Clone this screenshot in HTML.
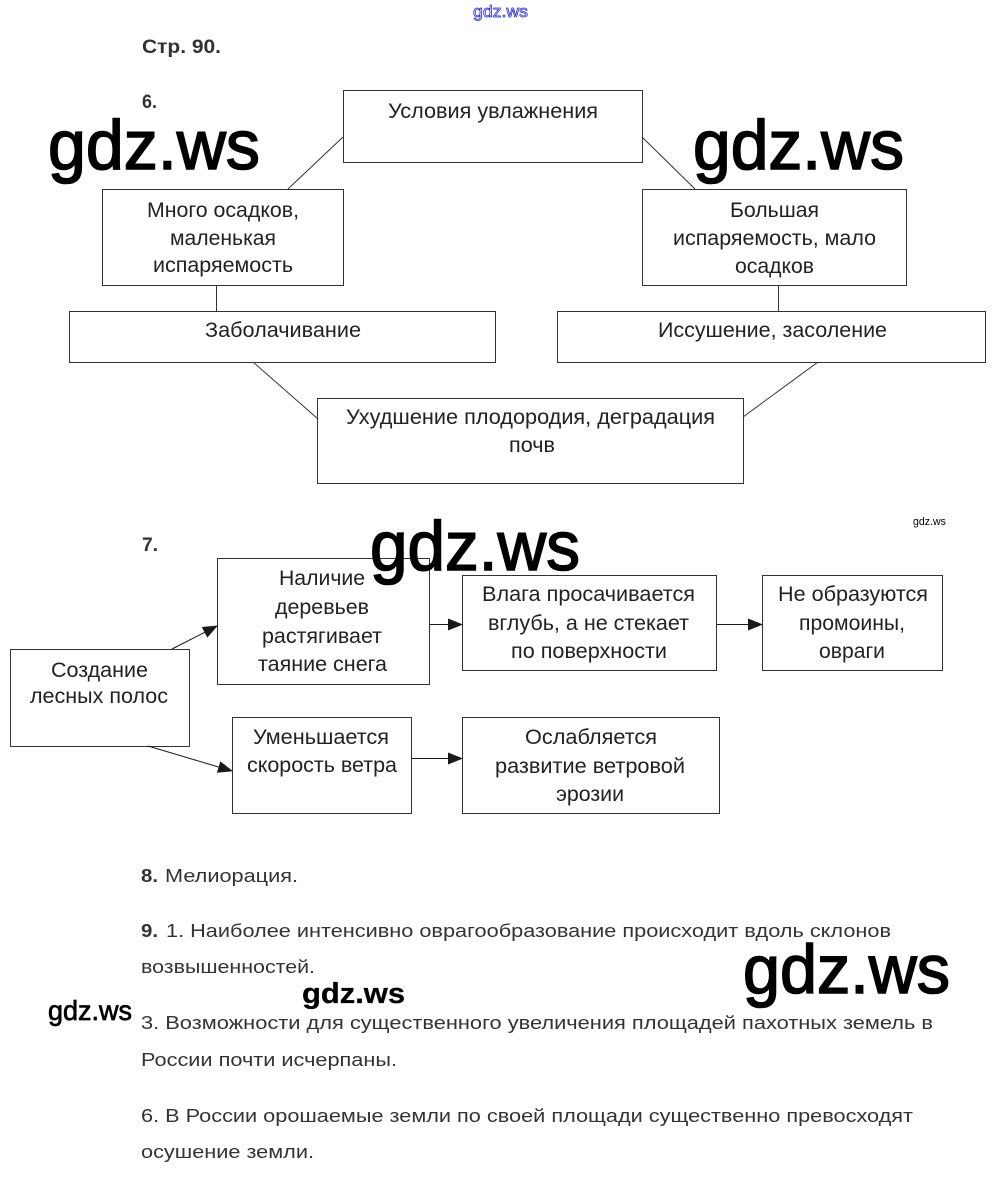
<!DOCTYPE html>
<html>
<head>
<meta charset="utf-8">
<style>
html,body{margin:0;padding:0;background:#fff;}
svg{display:block;}
text{font-family:"Liberation Sans","DejaVu Sans",sans-serif;}
.t{font-size:21px;fill:#222;}
.p{font-size:18px;fill:#333;}
.b{font-weight:bold;}
.w{fill:#000;stroke:#000;}
</style>
</head>
<body>
<svg width="1000" height="1177" viewBox="0 0 1000 1177" xmlns="http://www.w3.org/2000/svg">
<defs>
<marker id="ah" markerWidth="15" markerHeight="12" refX="14" refY="6" orient="auto" markerUnits="userSpaceOnUse">
<path d="M0,0 L15,6 L0,12 Z" fill="#1a1a1a"/>
</marker>
</defs>

<!-- top blue watermark -->
<text x="473" y="17" font-size="17" fill="#fff" stroke="#3030d0" stroke-width="0.8" textLength="55" lengthAdjust="spacingAndGlyphs">gdz.ws</text>

<!-- headings -->
<text class="b" x="142" y="53" font-size="19" fill="#333" textLength="79" lengthAdjust="spacingAndGlyphs">Стр. 90.</text>
<text class="b" x="142" y="108" font-size="19" fill="#333" textLength="15" lengthAdjust="spacingAndGlyphs">6.</text>
<text class="b" x="142" y="551" font-size="19" fill="#333" textLength="16" lengthAdjust="spacingAndGlyphs">7.</text>

<!-- Section 6 diagram -->
<g fill="none" stroke="#333" stroke-width="1">
<rect x="343.5" y="90.5" width="299" height="72"/>
<rect x="102.5" y="189.5" width="241" height="96"/>
<rect x="642.5" y="189.5" width="264" height="96"/>
<rect x="69.5" y="311.5" width="426" height="51"/>
<rect x="557.5" y="311.5" width="428" height="51"/>
<rect x="317.5" y="398.5" width="426" height="85"/>
<line x1="343" y1="137" x2="288" y2="189"/>
<line x1="642" y1="137" x2="695" y2="189"/>
<line x1="216.5" y1="286" x2="216.5" y2="311"/>
<line x1="778.5" y1="286" x2="778.5" y2="311"/>
<line x1="253" y1="362" x2="318" y2="419"/>
<line x1="818" y1="362" x2="743" y2="417"/>
</g>

<text class="t" x="388" y="118" textLength="210" lengthAdjust="spacingAndGlyphs">Условия увлажнения</text>
<text class="t" x="147" y="217" textLength="152" lengthAdjust="spacingAndGlyphs">Много осадков,</text>
<text class="t" x="170" y="245" textLength="106" lengthAdjust="spacingAndGlyphs">маленькая</text>
<text class="t" x="153" y="272" textLength="140" lengthAdjust="spacingAndGlyphs">испаряемость</text>
<text class="t" x="730" y="217" textLength="89" lengthAdjust="spacingAndGlyphs">Большая</text>
<text class="t" x="673" y="245" textLength="203" lengthAdjust="spacingAndGlyphs">испаряемость, мало</text>
<text class="t" x="735" y="273" textLength="79" lengthAdjust="spacingAndGlyphs">осадков</text>
<text class="t" x="205" y="337" textLength="156" lengthAdjust="spacingAndGlyphs">Заболачивание</text>
<text class="t" x="658" y="337" textLength="229" lengthAdjust="spacingAndGlyphs">Иссушение, засоление</text>
<text class="t" x="346" y="424" textLength="369" lengthAdjust="spacingAndGlyphs">Ухудшение плодородия, деградация</text>
<text class="t" x="509" y="452" textLength="46" lengthAdjust="spacingAndGlyphs">почв</text>

<!-- Section 7 diagram -->
<g fill="none" stroke="#333" stroke-width="1">
<rect x="10.5" y="649.5" width="179" height="97"/>
<rect x="217.5" y="558.5" width="212" height="126"/>
<rect x="462.5" y="575.5" width="254" height="95"/>
<rect x="762.5" y="575.5" width="180" height="95"/>
<rect x="232.5" y="717.5" width="179" height="96"/>
<rect x="462.5" y="717.5" width="257" height="96"/>
</g>
<g stroke="#1a1a1a" stroke-width="1" fill="none">
<line x1="172" y1="649" x2="217" y2="626" marker-end="url(#ah)"/>
<line x1="148" y1="746" x2="232" y2="771" marker-end="url(#ah)"/>
<line x1="430" y1="624.5" x2="462" y2="624.5" marker-end="url(#ah)"/>
<line x1="717" y1="624.5" x2="762" y2="624.5" marker-end="url(#ah)"/>
<line x1="412" y1="758.5" x2="462" y2="758.5" marker-end="url(#ah)"/>
</g>

<text class="t" x="51" y="677" textLength="97" lengthAdjust="spacingAndGlyphs">Создание</text>
<text class="t" x="30" y="703" textLength="138" lengthAdjust="spacingAndGlyphs">лесных полос</text>
<text class="t" x="279" y="585" textLength="86" lengthAdjust="spacingAndGlyphs">Наличие</text>
<text class="t" x="275" y="614" textLength="94" lengthAdjust="spacingAndGlyphs">деревьев</text>
<text class="t" x="262" y="643" textLength="120" lengthAdjust="spacingAndGlyphs">растягивает</text>
<text class="t" x="258" y="671" textLength="129" lengthAdjust="spacingAndGlyphs">таяние снега</text>
<text class="t" x="482" y="601" textLength="213" lengthAdjust="spacingAndGlyphs">Влага просачивается</text>
<text class="t" x="488" y="630" textLength="201" lengthAdjust="spacingAndGlyphs">вглубь, а не стекает</text>
<text class="t" x="511" y="658" textLength="156" lengthAdjust="spacingAndGlyphs">по поверхности</text>
<text class="t" x="778" y="601" textLength="150" lengthAdjust="spacingAndGlyphs">Не образуются</text>
<text class="t" x="799" y="630" textLength="106" lengthAdjust="spacingAndGlyphs">промоины,</text>
<text class="t" x="819" y="658" textLength="66" lengthAdjust="spacingAndGlyphs">овраги</text>
<text class="t" x="253" y="744" textLength="136" lengthAdjust="spacingAndGlyphs">Уменьшается</text>
<text class="t" x="247" y="772" textLength="150" lengthAdjust="spacingAndGlyphs">скорость ветра</text>
<text class="t" x="525" y="744" textLength="132" lengthAdjust="spacingAndGlyphs">Ослабляется</text>
<text class="t" x="495" y="773" textLength="190" lengthAdjust="spacingAndGlyphs">развитие ветровой</text>
<text class="t" x="556" y="801" textLength="68" lengthAdjust="spacingAndGlyphs">эрозии</text>

<!-- paragraphs -->
<text class="p b" x="141" y="882" textLength="17" lengthAdjust="spacingAndGlyphs">8.</text>
<text class="p" x="165" y="882" textLength="133" lengthAdjust="spacingAndGlyphs">Мелиорация.</text>
<text class="p b" x="141" y="937" textLength="17" lengthAdjust="spacingAndGlyphs">9.</text>
<text class="p" x="166" y="937" textLength="725" lengthAdjust="spacingAndGlyphs">1. Наиболее интенсивно оврагообразование происходит вдоль склонов</text>
<text class="p" x="141" y="973" textLength="174" lengthAdjust="spacingAndGlyphs">возвышенностей.</text>
<text class="p" x="141" y="1029" textLength="792" lengthAdjust="spacingAndGlyphs">3. Возможности для существенного увеличения площадей пахотных земель в</text>
<text class="p" x="141" y="1066" textLength="256" lengthAdjust="spacingAndGlyphs">России почти исчерпаны.</text>
<text class="p" x="141" y="1122" textLength="772" lengthAdjust="spacingAndGlyphs">6. В России орошаемые земли по своей площади существенно превосходят</text>
<text class="p" x="141" y="1158" textLength="173" lengthAdjust="spacingAndGlyphs">осушение земли.</text>

<!-- watermarks -->
<text class="w" x="48" y="169" font-size="70" stroke-width="1.6" textLength="212" lengthAdjust="spacingAndGlyphs">gdz.ws</text>
<text class="w" x="693" y="169" font-size="70" stroke-width="1.6" textLength="211" lengthAdjust="spacingAndGlyphs">gdz.ws</text>
<text class="w" x="370" y="570" font-size="70" stroke-width="1.6" textLength="210" lengthAdjust="spacingAndGlyphs">gdz.ws</text>
<text class="w" x="743" y="993" font-size="69" stroke-width="1.6" textLength="207" lengthAdjust="spacingAndGlyphs">gdz.ws</text>
<text class="w" x="302" y="1003" font-size="29" stroke-width="0.3" font-weight="bold" textLength="103" lengthAdjust="spacingAndGlyphs">gdz.ws</text>
<text class="w" x="48" y="1020" font-size="28" stroke-width="0.7" textLength="84" lengthAdjust="spacingAndGlyphs">gdz.ws</text>
<text class="w" x="913" y="525" font-size="11" stroke-width="0" textLength="33" lengthAdjust="spacingAndGlyphs">gdz.ws</text>
</svg>
</body>
</html>
